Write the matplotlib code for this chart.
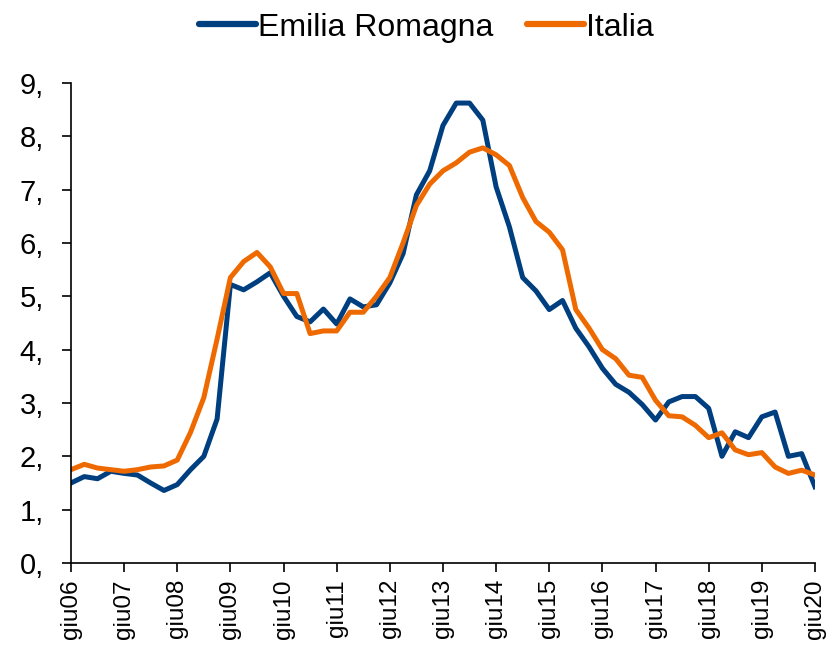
import matplotlib
matplotlib.use("Agg")
import matplotlib.pyplot as plt
import numpy as np

plt.rcParams['font.family'] = ['Liberation Sans', 'DejaVu Sans']

# quarterly series, giu06 .. giu20
emilia = [1.50, 1.62, 1.58, 1.72, 1.68, 1.65, 1.50, 1.36, 1.47, 1.75,
          2.00, 2.70, 5.22, 5.12, 5.27, 5.44, 5.00, 4.62, 4.52, 4.76,
          4.48, 4.95, 4.80, 4.84, 5.25, 5.80, 6.90, 7.35, 8.20, 8.62,
          8.62, 8.30, 7.05, 6.30, 5.35, 5.10, 4.75, 4.92, 4.40, 4.05,
          3.65, 3.35, 3.20, 2.97, 2.68, 3.02, 3.12, 3.12, 2.90, 2.00,
          2.46, 2.35, 2.74, 2.83, 2.00, 2.05, 1.43]
italia = [1.75, 1.85, 1.78, 1.75, 1.72, 1.75, 1.80, 1.82, 1.93, 2.45,
          3.10, 4.20, 5.35, 5.65, 5.82, 5.55, 5.05, 5.05, 4.30, 4.35,
          4.35, 4.70, 4.70, 5.00, 5.35, 6.00, 6.70, 7.10, 7.35, 7.50,
          7.70, 7.78, 7.65, 7.45, 6.85, 6.40, 6.20, 5.87, 4.75, 4.40,
          4.00, 3.83, 3.52, 3.48, 3.05, 2.76, 2.74, 2.58, 2.35, 2.44,
          2.12, 2.03, 2.07, 1.80, 1.68, 1.74, 1.65]
years = ["giu%02d" % y for y in range(6, 21)]

x = np.arange(len(emilia))

fig = plt.figure(figsize=(8.35, 6.57), dpi=100)
ax = fig.add_axes([0.085, 0.143, 0.891, 0.731])

ax.plot(x, emilia, color="#003F7F", lw=3.6, label="Emilia Romagna")
ax.plot(x, italia, color="#EE6A00", lw=3.6, label="Italia")

ax.set_xlim(0, len(emilia) - 1)
ax.set_ylim(0, 9)
ax.set_yticks(range(10))
ax.set_yticklabels(["%d," % v for v in range(10)], fontsize=21)
ax.set_xticks(np.arange(0, len(emilia), 4))
ax.set_xticklabels(years, rotation=90, fontsize=17.5)
ax.tick_params(axis="both", direction="out", length=6.5, width=1.2, colors="black")
ax.tick_params(axis="x", pad=5)
ax.tick_params(axis="y", pad=13)

for s in ["top", "right"]:
    ax.spines[s].set_visible(False)
for s in ["left", "bottom"]:
    ax.spines[s].set_linewidth(1.2)
    ax.spines[s].set_clip_on(False)

leg = fig.legend(loc="center", bbox_to_anchor=(0.511, 0.958), ncol=2,
                 frameon=False, fontsize=23, handlelength=1.78,
                 handletextpad=0.06, columnspacing=1.06, borderpad=0)
for h in leg.get_lines():
    h.set_linewidth(4.5)
    h.set_solid_capstyle("round")

fig.savefig("out.png", dpi=100)
